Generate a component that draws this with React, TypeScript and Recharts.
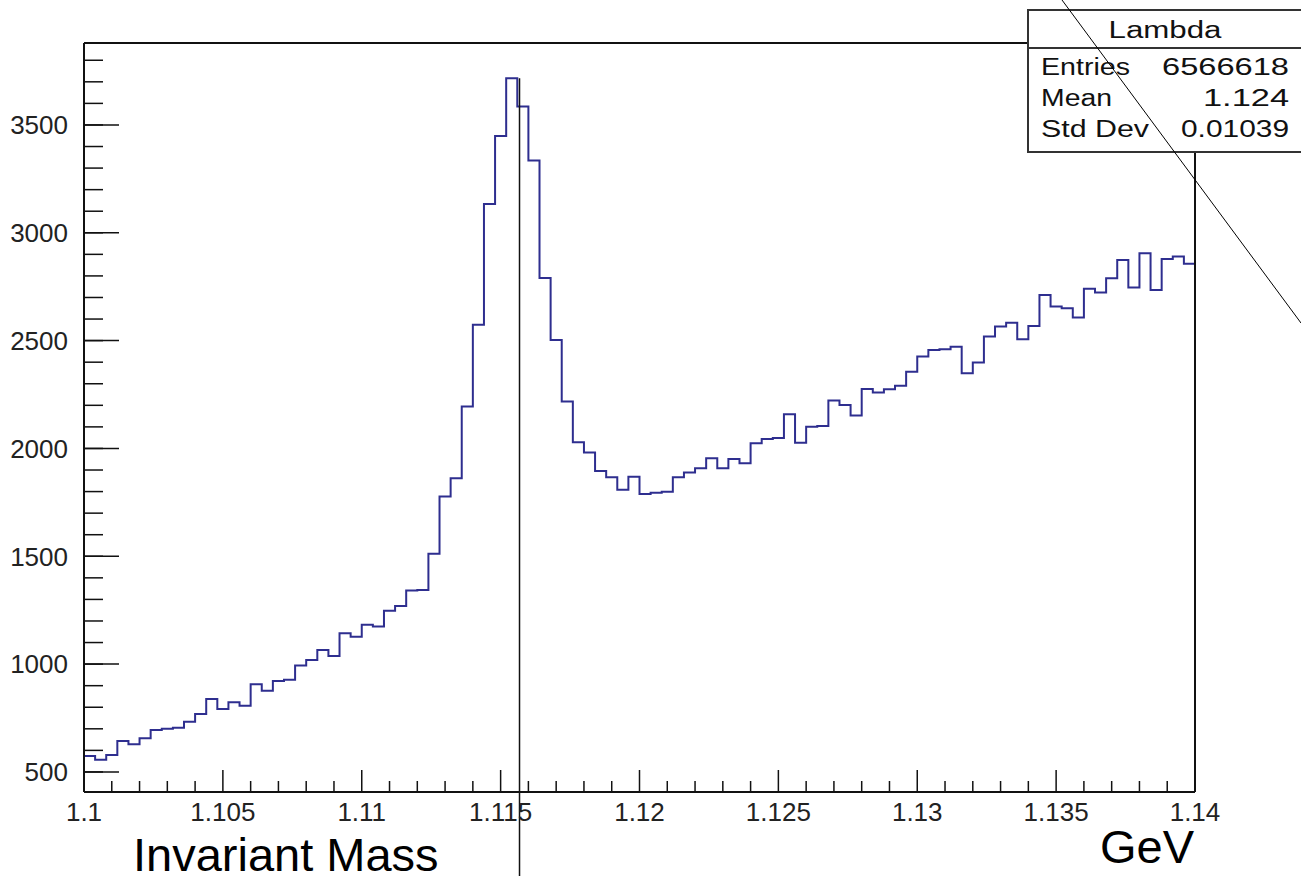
import { ComposedChart, Line, Scatter, XAxis, YAxis, ReferenceLine } from 'recharts'

const X_MIN = 1.1
const X_MAX = 1.14
const BIN_WIDTH = 0.0004

// entries per bin (100 bins from 1.1 to 1.14 GeV)
const counts = [
    574, 556, 579, 644, 628, 656, 695, 700, 705, 733,
    769, 838, 792, 823, 807, 907, 876, 922, 927, 993,
    1019, 1066, 1038, 1143, 1127, 1182, 1174, 1247, 1270, 1341,
    1344, 1512, 1777, 1862, 2194, 2573, 3134, 3449, 3717, 3585,
    3335, 2790, 2503, 2218, 2029, 1981, 1895, 1866, 1808, 1869,
    1789, 1795, 1799, 1866, 1888, 1908, 1955, 1908, 1951, 1931,
    2024, 2044, 2048, 2159, 2027, 2101, 2104, 2222, 2202, 2153,
    2276, 2259, 2275, 2291, 2356, 2426, 2457, 2460, 2472, 2349,
    2398, 2519, 2565, 2583, 2506, 2568, 2712, 2658, 2650, 2607,
    2740, 2723, 2789, 2874, 2746, 2905, 2735, 2879, 2890, 2856,
]

const xTicks = [1.1, 1.105, 1.11, 1.115, 1.12, 1.125, 1.13, 1.135, 1.14]
const yTicks = [500, 1000, 1500, 2000, 2500, 3000, 3500]
const xMinorTicks = Array.from({ length: 41 }, (_, i) => +(X_MIN + i * 0.001).toFixed(3))
const yMinorTicks = Array.from({ length: 34 }, (_, i) => 500 + i * 100)

const Y_DOMAIN: [number, number] = [407, 3880]
const LAMBDA_MASS = 1.11568
const PEAK = 3717

const stats = [
    { label: 'Entries', value: '6566618', labelW: 89, valueW: 127 },
    { label: 'Mean', value: '1.124', labelW: 71, valueW: 86 },
    { label: 'Std Dev', value: '0.01039', labelW: 108, valueW: 108 },
]

const isMajor = (v: number) => xTicks.some(t => Math.abs(t - v) < 1e-9)

// step line needs a closing point at the upper edge of the last bin
const data = counts.map((c, i) => ({ mass: +(X_MIN + i * BIN_WIDTH).toFixed(4), count: c }))
data.push({ mass: X_MAX, count: counts[counts.length - 1] })

// one point per x tick, sitting on the bottom of the frame
const xTickMarks = xMinorTicks.map(t => ({ mass: t, count: Y_DOMAIN[0], major: isMajor(t) }))

const font = 'Liberation Sans, Arial, Helvetica, sans-serif'
const frame = { stroke: '#111', strokeWidth: 2 }
const tickStroke = { stroke: '#111', strokeWidth: 1.5 }
const noLabel = () => <g />

// labels on the major x ticks only
function XLabel({ x, y, payload }: any) {
    if (!isMajor(payload.value)) return <g />
    return (
        <text x={x} y={y} dy="0.71em" textAnchor="middle" fill="#222" fontSize={26} fontFamily={font}>
            {String(payload.value)}
        </text>
    )
}

// x tick drawn upward into the frame, majors twice as long
function TickMark({ cx, cy, payload }: any) {
    return <line x1={cx} x2={cx} y1={cy} y2={cy - (payload.major ? 22 : 11)} stroke="#111" strokeWidth={1.5} />
}

export default function App() {
    return (
        <div style={{ position: 'absolute', left: 0, top: 0, width: 1301, height: 876, background: '#fff', overflow: 'hidden' }}>
            <ComposedChart width={1301} height={876} data={data} margin={{ top: 43, right: 106, bottom: 0, left: 0 }}>
                <XAxis
                    xAxisId="x"
                    dataKey="mass"
                    type="number"
                    domain={[X_MIN, X_MAX]}
                    allowDataOverflow
                    ticks={xMinorTicks}
                    interval={0}
                    height={84}
                    tickSize={0}
                    tickMargin={11}
                    tickLine={false}
                    axisLine={frame}
                    tick={XLabel}
                />
                <XAxis xAxisId="top" orientation="top" type="number" domain={[X_MIN, X_MAX]} allowDataOverflow mirror
                    tick={false} tickLine={false} axisLine={frame} />

                <YAxis
                    yAxisId="y"
                    type="number"
                    domain={Y_DOMAIN}
                    allowDataOverflow
                    ticks={yTicks}
                    interval={0}
                    width={84}
                    tickSize={0}
                    tickMargin={16}
                    tickLine={false}
                    axisLine={frame}
                    tick={{ fill: '#222', fontSize: 26, fontFamily: font }}
                />
                {/* inward y ticks, ROOT style (mirror axes stack, so keep them 1px wide) */}
                <YAxis yAxisId="yMinor" type="number" domain={Y_DOMAIN} allowDataOverflow mirror width={1}
                    ticks={yMinorTicks} interval={0} tick={noLabel} axisLine={false} tickSize={18} tickLine={tickStroke} />
                <YAxis yAxisId="yMajor" type="number" domain={Y_DOMAIN} allowDataOverflow mirror width={1}
                    ticks={yTicks} interval={0} tick={noLabel} axisLine={false} tickSize={35} tickLine={tickStroke} />
                <YAxis yAxisId="right" orientation="right" type="number" domain={Y_DOMAIN} allowDataOverflow mirror
                    tick={false} tickLine={false} axisLine={frame} />

                {/* invisible copies so the tick axes get a scale */}
                <Line xAxisId="x" yAxisId="yMinor" dataKey="count" stroke="none" dot={false} activeDot={false}
                    legendType="none" isAnimationActive={false} />
                <Line xAxisId="x" yAxisId="yMajor" dataKey="count" stroke="none" dot={false} activeDot={false}
                    legendType="none" isAnimationActive={false} />

                <Line
                    xAxisId="x"
                    yAxisId="y"
                    type="stepAfter"
                    dataKey="count"
                    stroke="#2e2e8f"
                    strokeWidth={2}
                    dot={false}
                    activeDot={false}
                    isAnimationActive={false}
                />

                {/* inward x ticks along the bottom of the frame */}
                <Scatter
                    xAxisId="x"
                    yAxisId="y"
                    data={xTickMarks}
                    dataKey="count"
                    shape={TickMark}
                    legendType="none"
                    isAnimationActive={false}
                />

                <ReferenceLine
                    xAxisId="x"
                    yAxisId="y"
                    segment={[{ x: LAMBDA_MASS, y: PEAK }, { x: LAMBDA_MASS, y: 0 }]}
                    stroke="#111"
                    strokeWidth={1.5}
                    ifOverflow="visible"
                />
            </ComposedChart>

            {/* stats box + annotations drawn on top of the chart */}
            <svg width={1301} height={876} style={{ position: 'absolute', left: 0, top: 0, pointerEvents: 'none' }}>
                <rect x={1028} y={10} width={300} height={142} fill="#fff" stroke="#333" strokeWidth={2} />
                <line x1={1028} y1={48} x2={1301} y2={48} stroke="#333" strokeWidth={2} />
                <text x={1165} y={38} textAnchor="middle" fontSize={23} fontFamily={font} fill="#111"
                    textLength={113} lengthAdjust="spacingAndGlyphs">Lambda</text>
                {stats.map((s, i) => (
                    <g key={s.label}>
                        <text x={1041} y={75 + i * 31} fontSize={23} fontFamily={font} fill="#111"
                            textLength={s.labelW} lengthAdjust="spacingAndGlyphs">{s.label}</text>
                        <text x={1289} y={75 + i * 31} textAnchor="end" fontSize={23} fontFamily={font} fill="#111"
                            textLength={s.valueW} lengthAdjust="spacingAndGlyphs">{s.value}</text>
                    </g>
                ))}
                <line x1={1062} y1={0} x2={1301} y2={323} stroke="#000" strokeWidth={1} />
                <text x={133} y={871} fontSize={47} fontFamily={font} fill="#000">Invariant Mass</text>
                <text x={1100} y={863} fontSize={47} fontFamily={font} fill="#000">GeV</text>
            </svg>
        </div>
    )
}
